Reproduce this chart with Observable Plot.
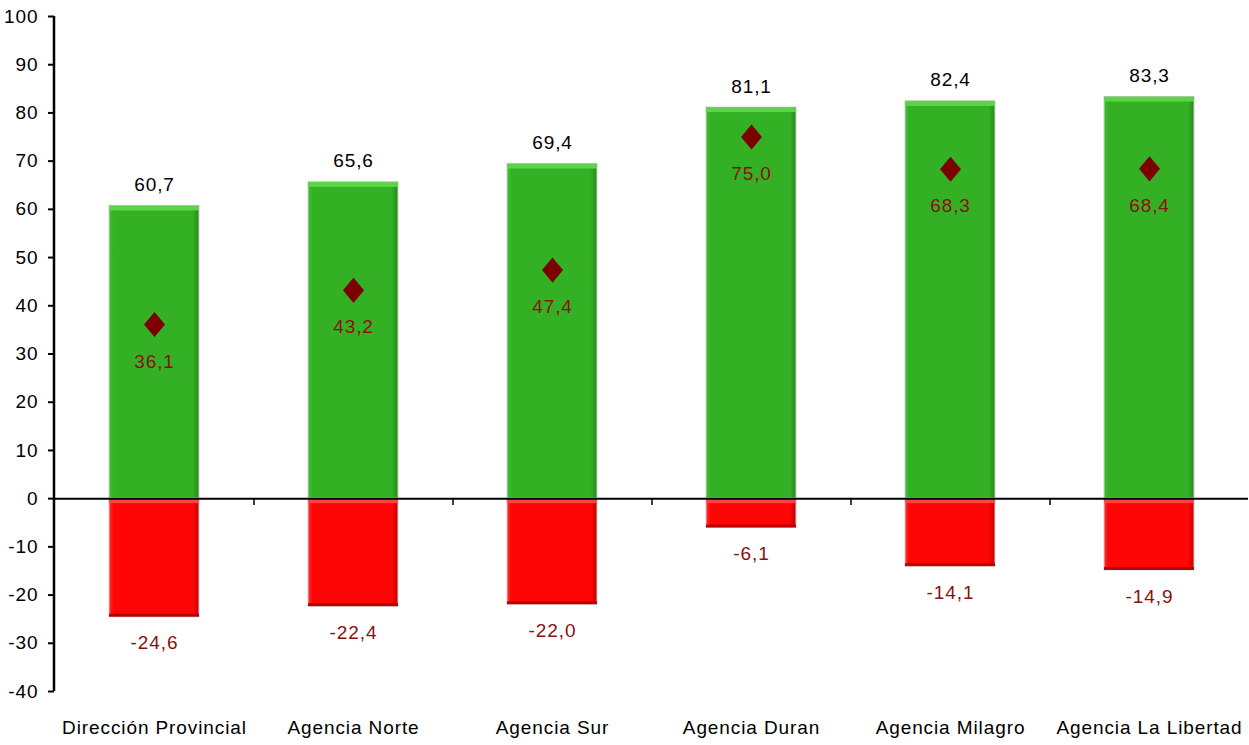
<!DOCTYPE html>
<html>
<head>
<meta charset="utf-8">
<script src="https://cdn.jsdelivr.net/npm/d3@7"></script>
<script src="https://cdn.jsdelivr.net/npm/@observablehq/plot@0.6"></script>
<style>
  html, body { margin: 0; padding: 0; background: #fff; }
  #chart svg { display: block; }
</style>
</head>
<body>
<div id="chart"></div>
<script>
const categories = ["Dirección Provincial", "Agencia Norte", "Agencia Sur", "Agencia Duran", "Agencia Milagro", "Agencia La Libertad"];
const positiveValues = [60.7, 65.6, 69.4, 81.1, 82.4, 83.3];
const negativeValues = [-24.6, -22.4, -22.0, -6.1, -14.1, -14.9];
const netValues = [36.1, 43.2, 47.4, 75.0, 68.3, 68.4];
const yTicks = [-40, -30, -20, -10, 0, 10, 20, 30, 40, 50, 60, 70, 80, 90, 100];

const rows = categories.map((c, i) => ({cat: c, pos: positiveValues[i], neg: negativeValues[i], net: netValues[i]}));
const fmt = v => d3.format(".1f")(v).replace(".", ",").replace("−", "-");

const W = 1249, H = 745;
const mL = 54, mR = 1, mT = 16, mB = 54;
const halfStep = (W - mL - mR) / categories.length / 2;

const tallDiamond = {
  draw(ctx, size) {
    const s = Math.sqrt(size) / 20;
    const hw = 10.5 * s, hh = 12.5 * s;
    ctx.moveTo(0, -hh); ctx.lineTo(hw, 0); ctx.lineTo(0, hh); ctx.lineTo(-hw, 0); ctx.closePath();
  }
};

const plot = Plot.plot({
  width: W, height: H,
  marginLeft: mL, marginRight: mR, marginTop: mT, marginBottom: mB,
  style: {fontFamily: "'Liberation Sans', Arial, sans-serif", fontSize: "19px", letterSpacing: "0.9px", color: "#000", background: "#fff"},
  x: {domain: categories, paddingInner: 0.55, paddingOuter: 0.275, label: null},
  y: {domain: [-40, 100], ticks: yTicks, label: null},
  marks: [
    Plot.barY(rows, {x: "cat", y1: 0, y2: "pos", fill: "url(#gGreen)", stroke: "#d0d0d0", strokeWidth: 1}),
    Plot.barY(rows, {x: "cat", y1: 0, y2: "neg", fill: "url(#gRed)", stroke: "#d0d0d0", strokeWidth: 1}),
    Plot.barY(rows, {x: "cat", y1: "pos", y2: "pos", insetBottom: -5, fill: "#5fd64c", fillOpacity: 0.95}),
    Plot.barY(rows, {x: "cat", y1: 0, y2: 0, insetBottom: -5, fill: "#ff4a4a", fillOpacity: 0.9}),
    Plot.barY(rows, {x: "cat", y1: "neg", y2: "neg", insetTop: -3, fill: "#b30000", fillOpacity: 0.9}),
    Plot.ruleY([0], {stroke: "#000", strokeWidth: 2}),
    Plot.ruleX(categories.slice(0, -1), {x: d => d, y1: 0, y2: -1.4, dx: halfStep, stroke: "#000", strokeWidth: 1.5}),
    Plot.axisY({ticks: yTicks, tickSize: 6, tickPadding: 10, fontSize: 19, tickFormat: d => String(d), strokeWidth: 2}),
    Plot.axisX({tickSize: 0, tickPadding: 29, fontSize: 19}),
    Plot.dot(rows, {x: "cat", y: "net", symbol: tallDiamond, r: 11.3, fill: "#7d0000", stroke: "none"}),
    Plot.text(rows, {x: "cat", y: "net", text: d => fmt(d.net), dy: 37, fill: "#8b1010", fontSize: 19}),
    Plot.text(rows, {x: "cat", y: "pos", text: d => fmt(d.pos), dy: -21, fill: "#000", fontSize: 19}),
    Plot.text(rows, {x: "cat", y: "neg", text: d => fmt(d.neg), dy: 26, fill: "#8b1010", fontSize: 19})
  ]
});

const svg = d3.select(plot);
const defs = svg.insert("defs", ":first-child");
function grad(id, stops) {
  const g = defs.append("linearGradient").attr("id", id).attr("x1", 0).attr("y1", 0).attr("x2", 1).attr("y2", 0);
  stops.forEach(([o, c]) => g.append("stop").attr("offset", o).attr("stop-color", c));
}
grad("gGreen", [[0, "#3fc22f"], [0.05, "#34b024"], [0.93, "#34b024"], [1, "#248a18"]]);
grad("gRed", [[0, "#ff3030"], [0.05, "#fe0606"], [0.93, "#fe0606"], [1, "#c80000"]]);

// vertical axis line along the left edge of the plot frame, from the y scale's range
const ys = plot.scale("y");
svg.append("line")
  .attr("x1", mL).attr("x2", mL)
  .attr("y1", ys.apply(ys.domain[0])).attr("y2", ys.apply(ys.domain[1]))
  .attr("stroke", "#000").attr("stroke-width", 2.5);

document.getElementById("chart").appendChild(plot);
</script>
</body>
</html>
